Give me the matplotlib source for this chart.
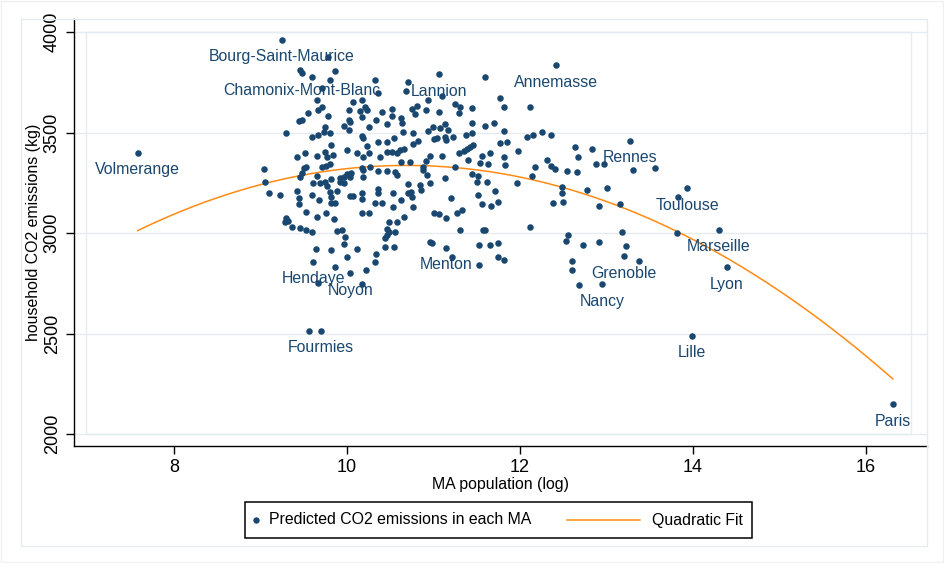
import numpy as np
import matplotlib.pyplot as plt
from matplotlib.patches import Rectangle
from matplotlib.lines import Line2D

# metropolitan areas without a label: log of population, predicted household CO2 (kg)
ma_logpop = [
    9.78, 9.46, 9.59, 9.86, 9.80, 9.71, 10.32, 10.36, 9.65, 10.07,
    10.17, 10.21, 9.67, 9.71, 9.55, 9.78, 10.02, 10.15, 10.17, 10.23,
    10.40, 10.52, 10.52, 9.45, 9.48, 10.02, 10.04, 10.34, 9.75, 9.96,
    10.02, 10.25, 10.46, 9.30, 9.73, 9.80, 9.59, 9.66, 10.17, 10.19,
    10.36, 10.46, 9.82, 10.00, 10.23, 9.42, 9.51, 9.65, 9.75, 9.77,
    9.84, 10.11, 10.19, 10.25, 10.38, 10.46, 10.52, 10.58, 9.71, 9.76,
    9.80, 9.50, 9.53, 9.04, 9.48, 9.46, 9.65, 9.61, 9.69, 9.75,
    9.77, 9.81, 9.92, 9.96, 10.00, 10.05, 10.17, 10.19, 10.27, 10.36,
    10.46, 10.56, 10.58, 9.92, 9.96, 10.04, 10.18, 9.05, 9.10, 9.23,
    9.42, 9.45, 9.59, 9.68, 9.80, 9.88, 9.82, 9.82, 9.86, 10.04,
    10.07, 10.17, 10.17, 10.36, 10.36, 10.32, 10.40, 10.53, 10.53, 9.44,
    9.53, 9.65, 9.76, 9.85, 9.30, 9.28, 9.32, 9.36, 9.46, 9.53,
    9.60, 9.88, 9.94, 9.98, 9.97, 10.17, 10.26, 10.48, 10.46, 10.48,
    10.56, 10.58, 10.44, 10.46, 9.64, 9.82, 10.00, 10.11, 10.34, 10.44,
    10.54, 9.86, 10.22, 10.32, 9.66, 10.17, 9.56, 11.60, 10.71, 10.68,
    11.10, 10.94, 11.25, 11.31, 11.29, 11.45, 11.77, 11.82, 12.11, 10.75,
    10.81, 10.79, 10.91, 11.06, 10.63, 10.64, 10.65, 10.76, 10.94, 10.99,
    11.08, 11.13, 11.17, 11.44, 11.60, 11.70, 11.81, 12.08, 12.15, 12.25,
    10.54, 10.82, 10.76, 11.01, 11.04, 11.13, 11.15, 11.23, 11.38, 11.45,
    11.77, 11.85, 10.66, 10.61, 11.29, 11.35, 11.39, 11.42, 11.46, 11.40,
    11.56, 11.65, 11.81, 11.98, 12.31, 10.91, 10.96, 11.10, 10.63, 10.73,
    10.88, 11.25, 11.54, 11.63, 11.83, 12.17, 10.88, 10.92, 10.96, 10.84,
    10.86, 10.71, 10.70, 10.74, 10.75, 10.62, 10.76, 10.66, 11.13, 11.20,
    11.44, 11.52, 11.50, 11.62, 11.52, 11.56, 11.71, 11.74, 11.67, 11.97,
    12.14, 11.00, 11.06, 11.15, 11.27, 11.33, 11.31, 11.57, 11.60, 12.11,
    10.96, 10.98, 11.21, 11.53, 11.65, 11.75, 11.75, 11.81, 11.53, 12.36,
    12.64, 12.83, 12.36, 12.41, 12.54, 12.66, 12.67, 12.88, 12.97, 13.31,
    13.56, 12.48, 12.48, 12.77, 13.00, 13.83, 12.38, 12.50, 12.91, 13.16,
    12.55, 12.53, 12.73, 12.91, 13.18, 13.23, 13.38, 12.60, 12.60, 12.68,
    13.82,
]
ma_co2 = [
    3875, 3812, 3779, 3809, 3763, 3721, 3763, 3699, 3663, 3654,
    3663, 3630, 3613, 3627, 3600, 3583, 3613, 3610, 3580, 3613,
    3605, 3617, 3583, 3560, 3563, 3563, 3555, 3563, 3530, 3533,
    3514, 3527, 3543, 3497, 3505, 3500, 3477, 3489, 3484, 3472,
    3455, 3455, 3439, 3414, 3434, 3381, 3398, 3384, 3406, 3381,
    3389, 3398, 3381, 3398, 3381, 3406, 3406, 3398, 3331, 3334,
    3344, 3323, 3328, 3319, 3301, 3281, 3284, 3251, 3248, 3256,
    3235, 3268, 3273, 3281, 3295, 3301, 3323, 3314, 3331, 3311,
    3311, 3306, 3289, 3256, 3248, 3281, 3278, 3256, 3198, 3190,
    3211, 3173, 3190, 3165, 3206, 3211, 3181, 3152, 3149, 3185,
    3185, 3198, 3168, 3218, 3198, 3152, 3152, 3201, 3129, 3145,
    3104, 3082, 3099, 3069, 3074, 3057, 3062, 3029, 3024, 3016,
    3007, 3012, 3016, 2979, 2946, 3099, 3099, 3057, 3019, 3007,
    3007, 3057, 2974, 2991, 2922, 2916, 2880, 2922, 2896, 2929,
    2929, 2833, 2817, 2858, 2750, 2747, 2513, 3776, 3751, 3709,
    3683, 3663, 3643, 3627, 3600, 3622, 3671, 3627, 3630, 3617,
    3633, 3593, 3613, 3605, 3572, 3550, 3505, 3500, 3510, 3527,
    3522, 3543, 3514, 3550, 3533, 3550, 3510, 3477, 3489, 3505,
    3472, 3460, 3444, 3467, 3472, 3477, 3464, 3477, 3489, 3497,
    3450, 3455, 3417, 3414, 3398, 3411, 3417, 3430, 3439, 3364,
    3384, 3397, 3378, 3411, 3364, 3361, 3384, 3384, 3356, 3356,
    3328, 3331, 3348, 3344, 3339, 3328, 3314, 3289, 3248, 3240,
    3215, 3245, 3198, 3206, 3181, 3165, 3132, 3082, 3273, 3173,
    3295, 3285, 3256, 3256, 3190, 3145, 3211, 3157, 3135, 3251,
    3284, 3099, 3095, 3074, 3102, 3115, 3016, 3016, 3016, 3029,
    2957, 2952, 2880, 2941, 2941, 2949, 2883, 2866, 2841, 3489,
    3431, 3418, 3334, 3318, 3311, 3306, 3378, 3344, 3344, 3314,
    3323, 3231, 3201, 3215, 3226, 3181, 3149, 3157, 3135, 3145,
    2991, 2962, 2941, 2957, 3007, 2936, 2861, 2863, 2817, 2742,
    3002,
]

# labelled metropolitan areas
lab_names = ['Volmerange', 'Bourg-Saint-Maurice', 'Chamonix-Mont-Blanc', 'Lannion',
             'Annemasse', 'Rennes', 'Toulouse', 'Marseille', 'Lyon', 'Lille', 'Paris',
             'Grenoble', 'Nancy', 'Menton', 'Hendaye', 'Noyon', 'Fourmies']
lab_logpop = [7.58, 9.25, 9.48, 11.06, 12.42, 13.27, 13.93, 14.30, 14.39, 13.99, 16.31,
              13.20, 12.95, 11.15, 9.61, 10.04, 9.70]
lab_co2 = [3399, 3962, 3796, 3792, 3837, 3460, 3223, 3016, 2830, 2488, 2149,
           2886, 2745, 2927, 2858, 2800, 2513]

xticks = [8, 10, 12, 14, 16]
yticks = [2000, 2500, 3000, 3500, 4000]

NAVY = '#1a476f'
ORANGE = '#ff8a14'
GRID = '#e4ecf0'

plt.rcParams['font.family'] = ['Liberation Sans', 'DejaVu Sans']

W, H = 945, 563
fig = plt.figure(figsize=(W / 100, H / 100), dpi=100)


def fx(px):
    return px / W


def fy(py):
    return 1 - py / H


# frames around the whole picture and the graph region
fig.add_artist(Rectangle((0.001, 0.002), 0.997, 0.996, transform=fig.transFigure,
                         fill=False, ec='#f0f0f0', lw=1))
fig.add_artist(Rectangle((fx(21), fy(546)), fx(927) - fx(21), fy(19) - fy(546),
                         transform=fig.transFigure, fill=False, ec=GRID, lw=1))

ax = fig.add_axes([fx(74), fy(446), fx(927) - fx(74), fy(19) - fy(446)])

x = np.array(ma_logpop + lab_logpop)
y = np.array(ma_co2 + lab_co2)
ax.scatter(x, y, s=22, color=NAVY, linewidths=0, zorder=3)

# quadratic fit over the observed range
coef = np.polyfit(x, y, 2)
xs = np.linspace(x.min(), x.max(), 200)
ax.plot(xs, np.polyval(coef, xs), color=ORANGE, lw=1.1, zorder=2)

for name, a, b in zip(lab_names, lab_logpop, lab_co2):
    ax.annotate(name, (a, b), xytext=(0, -15.5), textcoords='offset points',
                ha='center', va='baseline', fontsize=11.4, color=NAVY, zorder=4)

ax.set_xlim(6.844, 16.705)
ax.set_ylim(1940, 4066)
ax.set_xticks(xticks)
ax.set_yticks(yticks)
ax.grid(axis='y', color=GRID, lw=1)
ax.set_axisbelow(True)
# plot region border
ax.add_patch(Rectangle((6.983, 2000), 16.52 - 6.983, 2000, fill=False, ec=GRID, lw=1, zorder=1))

for s in ['top', 'right']:
    ax.spines[s].set_visible(False)
for s in ['left', 'bottom']:
    ax.spines[s].set_linewidth(1)
ax.tick_params(direction='out', length=6, width=1, labelsize=13)
ax.tick_params(axis='x', pad=3)
ax.tick_params(axis='y', pad=3.5)
plt.setp(ax.get_yticklabels(), rotation=90, va='center')

ax.set_xlabel('MA population (log)', fontsize=11.4, labelpad=1)
ax.set_ylabel('household CO2 emissions (kg)', fontsize=11.4, labelpad=2)

# legend box
fig.add_artist(Rectangle((fx(245), fy(538)), fx(752) - fx(245), fy(502) - fy(538),
                         transform=fig.transFigure, fill=False, ec='black', lw=1.1))
fig.add_artist(Line2D([fx(256)], [fy(520)], marker='o', ms=4.6, mew=0, color=NAVY,
                      ls='none', transform=fig.transFigure))
fig.text(fx(269), fy(520), 'Predicted CO2 emissions in each MA', va='center', fontsize=11.4)
fig.add_artist(Line2D([fx(567), fx(640)], [fy(520), fy(520)], color=ORANGE, lw=1.1,
                      transform=fig.transFigure))
fig.text(fx(652), fy(520), 'Quadratic Fit', va='center', fontsize=11.4)

fig.savefig('out.png', dpi=100)
